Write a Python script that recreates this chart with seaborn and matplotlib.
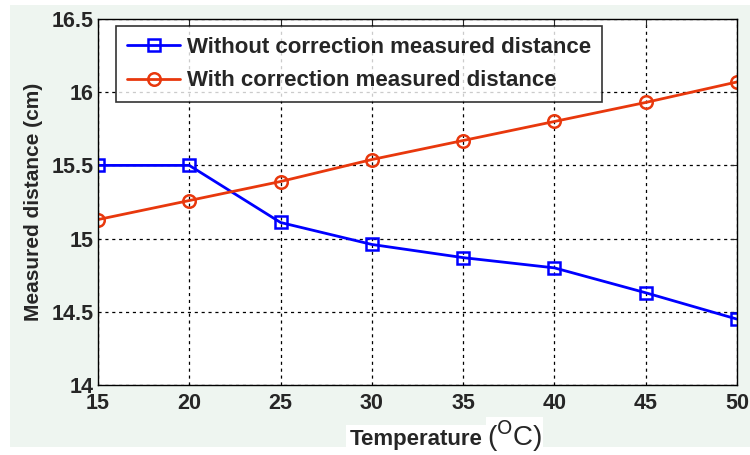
import numpy as np
import pandas as pd
import matplotlib
matplotlib.use("Agg")
import matplotlib.pyplot as plt
import seaborn as sns
from matplotlib.patches import Rectangle

temperature = [15, 20, 25, 30, 35, 40, 45, 50]
without_correction = [15.50, 15.50, 15.11, 14.96, 14.87, 14.80, 14.63, 14.45]
with_correction = [15.13, 15.26, 15.39, 15.54, 15.67, 15.80, 15.93, 16.07]
series_names = ["Without correction measured distance", "With correction measured distance"]
x_ticks = [15, 20, 25, 30, 35, 40, 45, 50]
y_ticks = [14, 14.5, 15, 15.5, 16, 16.5]
y_tick_labels = ["14", "14.5", "15", "15.5", "16", "16.5"]

sns.set_style("white")
plt.rcParams['font.family'] = ['Liberation Sans', 'DejaVu Sans']

df = pd.DataFrame({
    "Temperature": temperature * 2,
    "Distance": without_correction + with_correction,
    "Series": [series_names[0]] * len(temperature) + [series_names[1]] * len(temperature),
})

fig = plt.figure(figsize=(7.5, 4.55), dpi=100)
fig.patch.set_facecolor("white")
fig.patches.append(Rectangle((10/750, 1 - 447/455), 740/750, 442/455,
                             transform=fig.transFigure, facecolor="#eef5f0",
                             edgecolor="none", zorder=-10))
ax = fig.add_axes([98/750, 1 - 385/455, (737-98)/750, (385-19)/455])
ax.set_facecolor("white")

palette = {series_names[0]: "#0000ff", series_names[1]: "#e8380d"}
markers = {series_names[0]: "s", series_names[1]: "o"}
sns.lineplot(data=df, x="Temperature", y="Distance", hue="Series", style="Series",
             palette=palette, markers=markers, dashes=False, ax=ax,
             linewidth=2, markersize=9, markerfacecolor="none",
             markeredgewidth=1.8)
for line in ax.get_lines():
    line.set_markerfacecolor("none")
    line.set_markeredgecolor(line.get_color())

ax.set_xlim(15, 50)
ax.set_ylim(14, 16.5)
ax.set_xticks(x_ticks)
ax.set_yticks(y_ticks)
ax.set_yticklabels(y_tick_labels)
ax.grid(True, color="black", linestyle=(0, (2.5, 3)), linewidth=0.9)
ax.tick_params(direction="in", top=True, right=True, length=5, width=0.8,
               labelsize=15.5, pad=6)
ax.tick_params(axis="y", pad=3)
for lab in ax.get_xticklabels() + ax.get_yticklabels():
    lab.set_fontweight("bold")
for sp in ax.spines.values():
    sp.set_color("black")
    sp.set_linewidth(1.0)

ax.set_xlabel("")
ax.set_ylabel("Measured distance (cm)", fontsize=15, fontweight="bold", labelpad=6)

fig.text(350/750, 1 - 440/455, "Temperature", fontsize=16, fontweight="bold",
         ha="left", va="center",
         bbox=dict(facecolor="white", edgecolor="none", pad=3))
fig.text(487/750, 1 - 436/455, r"($^{\mathrm{O}}$C)", fontsize=20,
         ha="left", va="center",
         bbox=dict(facecolor="white", edgecolor="none", pad=0.5))

leg = ax.legend(loc="upper left", bbox_to_anchor=(0.028, 0.981), fontsize=16,
                frameon=True, fancybox=False, edgecolor="black",
                handlelength=2.4, borderpad=0.5, labelspacing=0.55,
                handletextpad=0.3, borderaxespad=0)
leg.get_frame().set_linewidth(1.2)
for t in leg.get_texts():
    t.set_fontweight("bold")

fig.savefig("out.png", dpi=100)
